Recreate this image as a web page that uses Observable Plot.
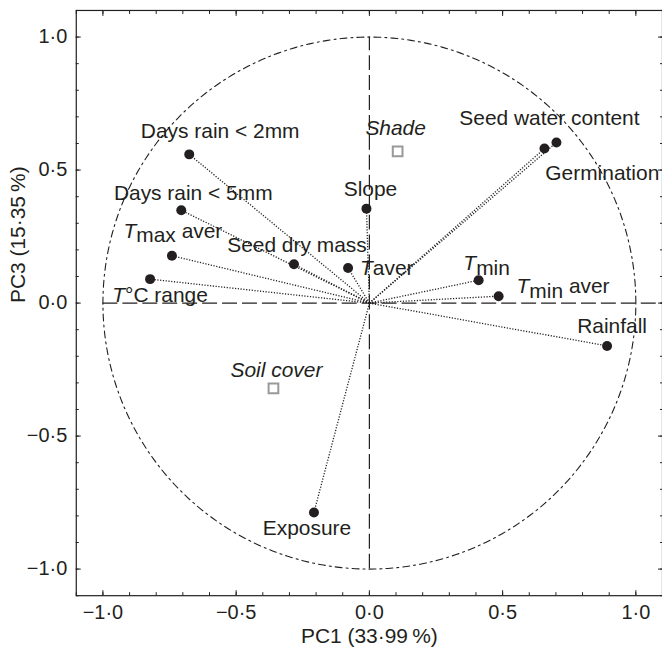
<!DOCTYPE html>
<html><head><meta charset="utf-8">
<script src="https://cdn.jsdelivr.net/npm/d3@7"></script>
<script src="https://cdn.jsdelivr.net/npm/@observablehq/plot@0.6"></script>
<style>
html,body{margin:0;padding:0;background:#fff;overflow:hidden}
svg{font-family:"Liberation Sans",Arial,Helvetica,sans-serif}
</style>
</head><body><div id="chart"></div>
<script>
// ---- data ----
const variables = ["Days rain < 2mm","Days rain < 5mm","Tmax aver","T°C range","Seed dry mass","Slope","Taver","Seed water content","Germination","Tmin","Tmin aver","Rainfall","Exposure"];
const pc1 = [-0.676,-0.706,-0.741,-0.823,-0.283,-0.011,-0.080,0.657,0.702,0.410,0.485,0.892,-0.208];
const pc3 = [0.559,0.349,0.178,0.090,0.146,0.355,0.132,0.581,0.604,0.086,0.026,-0.161,-0.787];
const supplementary = ["Shade","Soil cover"];
const supPc1 = [0.106,-0.360];
const supPc3 = [0.570,-0.321];
const majorTicks = [-1,-0.5,0,0.5,1];
const minorTicks = [-1.1,-1,-0.9,-0.8,-0.7,-0.6,-0.5,-0.4,-0.3,-0.2,-0.1,0,0.1,0.2,0.3,0.4,0.5,0.6,0.7,0.8,0.9,1,1.1];
const xTitle = "PC1 (33·99\u2009%)";
const yTitle = "PC3 (15·35\u2009%)";

// ---- layout (label placement relative to points, px) ----
const labelLayout = {
  "Days rain < 2mm": {dx: 31, dy: -23, anchor: "middle"},
  "Days rain < 5mm": {dx: 12, dy: -17, anchor: "middle"},
  "Tmax aver": {dx: 1, dy: -25, anchor: "middle"},
  "T°C range": {dx: 10, dy: 16, anchor: "middle"},
  "Seed dry mass": {dx: 3, dy: -19, anchor: "middle"},
  "Slope": {dx: 4, dy: -19, anchor: "middle"},
  "Taver": {dx: 12, dy: 0, anchor: "start"},
  "Seed water content": {dx: 5, dy: -30, anchor: "middle"},
  "Germination": {dx: 46, dy: 31, anchor: "middle"},
  "Tmin": {dx: 8, dy: -17, anchor: "middle"},
  "Tmin aver": {dx: 18, dy: -10, anchor: "start"},
  "Rainfall": {dx: 5, dy: -20, anchor: "middle"},
  "Exposure": {dx: -7, dy: 16, anchor: "middle"},
  "Shade": {dx: -2, dy: -23, anchor: "middle"},
  "Soil cover": {dx: 3, dy: -18, anchor: "middle"}
};
const richLabels = {
  "Tmax aver": [["T","i"],["max","sub"],[" aver",""]],
  "Tmin": [["T","i"],["min","sub"]],
  "Tmin aver": [["T","i"],["min","sub"],[" aver",""]],
  "Taver": [["T","i"],["aver",""]],
  "T°C range": [["T","i"],["°C range",""]]
};

const vars = variables.map((name, i) => ({name, x: pc1[i], y: pc3[i]}));
const sups = supplementary.map((name, i) => ({name, x: supPc1[i], y: supPc3[i]}));
const ink = "#231f20";
const fmt = d => (d < 0 ? "\u2212" : "") + Math.abs(d).toFixed(1).replace(".", "·");

// unit correlation circle (geometric reference, not data)
const circle = d3.range(0, 361, 1).map(a => ({x: Math.cos(a * Math.PI / 180), y: Math.sin(a * Math.PI / 180)}));

const labelMark = (d, extra = {}) => {
  const L = labelLayout[d.name];
  return Plot.text([d], {x: "x", y: "y", text: "name", dx: L.dx, dy: L.dy, textAnchor: L.anchor,
    fontSize: 21, fill: ink, ...extra});
};

const plot = Plot.plot({
  width: 664, height: 655,
  marginLeft: 76, marginRight: 0, marginTop: 10, marginBottom: 58,
  x: {domain: [-1.1, 1.1]},
  y: {domain: [-1.1, 1.1]},
  style: {fontFamily: '"Liberation Sans",Arial,sans-serif', color: ink, background: "#fff"},
  marks: [
    Plot.line(circle, {x: "x", y: "y", stroke: ink, strokeWidth: 1.1, strokeDasharray: "7,4,2,4"}),
    Plot.ruleY([0], {x1: -1, x2: 1.1, stroke: ink, strokeWidth: 1.2, strokeDasharray: "15,5"}),
    Plot.ruleX([0], {y1: -1, y2: 1, stroke: ink, strokeWidth: 1.2, strokeDasharray: "15,5"}),
    Plot.link(vars, {x1: 0, y1: 0, x2: "x", y2: "y", stroke: ink, strokeWidth: 1.3, strokeDasharray: "1.2,1.6"}),
    Plot.dot(vars, {x: "x", y: "y", r: 5, fill: ink, stroke: "none"}),
    Plot.dot(sups, {x: "x", y: "y", symbol: "square", r: 5.5, fill: "none", stroke: "#999", strokeWidth: 2}),
    ...vars.map(d => labelMark(d)),
    ...sups.map(d => labelMark(d, {fontStyle: "italic"})),
    Plot.frame({stroke: ink, strokeWidth: 1.2}),
    // inward ticks on all four sides
    Plot.axisX(minorTicks, {anchor: "bottom", tickSize: -3, tickFormat: () => "", label: null, stroke: ink}),
    Plot.axisX(minorTicks, {anchor: "top", tickSize: -3, tickFormat: () => "", label: null, stroke: ink}),
    Plot.axisY(minorTicks, {anchor: "left", tickSize: -3, tickFormat: () => "", label: null, stroke: ink}),
    Plot.axisY(minorTicks, {anchor: "right", tickSize: -3, tickFormat: () => "", label: null, stroke: ink}),
    Plot.axisX(majorTicks, {anchor: "bottom", tickSize: -5, tickFormat: () => "", label: null, stroke: ink}),
    Plot.axisX(majorTicks, {anchor: "top", tickSize: -5, tickFormat: () => "", label: null, stroke: ink}),
    Plot.axisY(majorTicks, {anchor: "left", tickSize: -5, tickFormat: () => "", label: null, stroke: ink}),
    Plot.axisY(majorTicks, {anchor: "right", tickSize: -5, tickFormat: () => "", label: null, stroke: ink}),
    // tick labels
    Plot.axisX(majorTicks, {anchor: "bottom", tickSize: 0, tickPadding: 9, tickFormat: fmt, fontSize: 20, label: null, fill: ink}),
    Plot.axisY(majorTicks, {anchor: "left", tickSize: 0, tickPadding: 9, tickFormat: fmt, fontSize: 20, label: null, fill: ink}),
    // axis titles
    Plot.text([xTitle], {frameAnchor: "bottom", text: d => d, dy: 47, fontSize: 21, fill: ink}),
    Plot.text([yTitle], {frameAnchor: "left", text: d => d, dx: -58, rotate: -90, fontSize: 21, fill: ink})
  ]
});

// rich text: italic T and subscripts
d3.select(plot).selectAll("text").each(function() {
  const parts = richLabels[this.textContent];
  if (!parts) return;
  const t = d3.select(this);
  t.text(null);
  let shifted = false;
  for (const [s, kind] of parts) {
    const sp = t.append("tspan").text(s);
    if (kind === "i") sp.attr("font-style", "italic");
    if (kind === "sub") { sp.attr("dy", 5); shifted = true; }
    else if (shifted) { sp.attr("dy", -5); shifted = false; }
  }
});
document.getElementById("chart").appendChild(plot);
</script>
</body></html>
